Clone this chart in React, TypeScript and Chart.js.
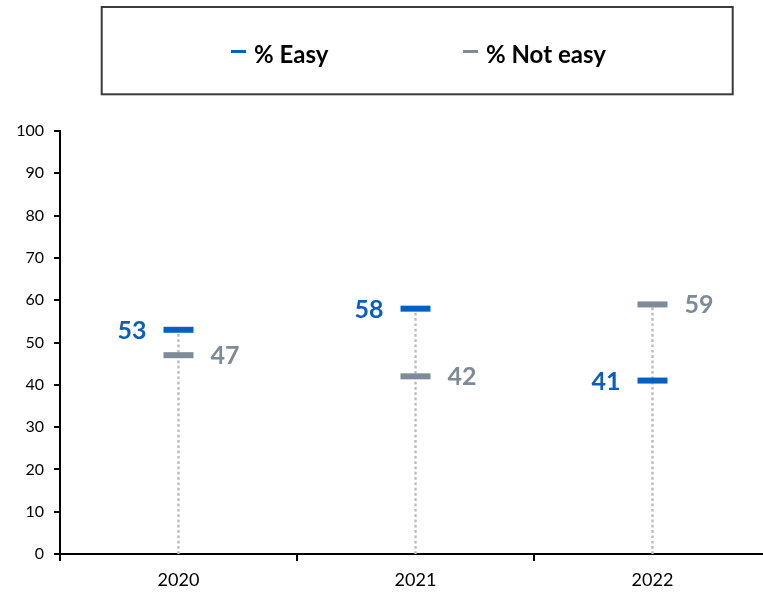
import { useEffect, useRef } from 'react';
import { Chart, registerables } from 'chart.js';

Chart.register(...registerables);

const categories = ['2020', '2021', '2022'];
const easyValues = [53, 58, 41];
const notEasyValues = [47, 42, 59];
const seriesLabels = ['% Easy', '% Not easy'];
const yMin = 0;
const yMax = 100;
const yStep = 10;

const BLUE = '#0A5EBC';
const GRAY = '#7D8A97';
const FONT = 'Lato';

const dropLines = {
  id: 'dropLines',
  beforeDatasetsDraw(chart: any) {
    const { ctx, scales } = chart;
    const y = scales.y;
    const m0 = chart.getDatasetMeta(0);
    ctx.save();
    ctx.strokeStyle = '#BDBDBD';
    ctx.lineWidth = 2.4;
    ctx.setLineDash([2.7, 2.6]);
    categories.forEach((_, i) => {
      const top = Math.max(easyValues[i], notEasyValues[i]);
      const x = m0.data[i].x;
      ctx.beginPath();
      ctx.moveTo(x, y.getPixelForValue(yMin));
      ctx.lineTo(x, y.getPixelForValue(top));
      ctx.stroke();
    });
    ctx.restore();
  },
};

const valueLabels = {
  id: 'valueLabels',
  afterDatasetsDraw(chart: any) {
    const { ctx } = chart;
    ctx.save();
    ctx.font = `bold 25px ${FONT}`;
    ctx.textBaseline = 'middle';
    chart.data.datasets.forEach((ds: any, di: number) => {
      const meta = chart.getDatasetMeta(di);
      meta.data.forEach((pt: any, i: number) => {
        ctx.fillStyle = ds.borderColor;
        if (di === 0) {
          ctx.textAlign = 'right';
          ctx.fillText(String(ds.data[i]), pt.x - 32, pt.y + 1);
        } else {
          ctx.textAlign = 'left';
          ctx.fillText(String(ds.data[i]), pt.x + 32, pt.y + 1);
        }
      });
    });
    ctx.restore();
  },
};

const legendBox = {
  id: 'legendBox',
  afterDraw(chart: any) {
    const { ctx } = chart;
    ctx.save();
    ctx.strokeStyle = '#3a3a3a';
    ctx.lineWidth = 2;
    ctx.strokeRect(101.7, 7, 631, 87.3);
    const starts = [231, 463];
    ctx.font = `bold 24px ${FONT}`;
    ctx.textBaseline = 'alphabetic';
    ctx.textAlign = 'left';
    chart.data.datasets.forEach((ds: any, i: number) => {
      const x = starts[i];
      ctx.strokeStyle = ds.borderColor;
      ctx.lineWidth = 3;
      ctx.beginPath();
      ctx.moveTo(x, 51.5);
      ctx.lineTo(x + 15, 51.5);
      ctx.stroke();
      ctx.fillStyle = '#000';
      ctx.fillText(ds.label, x + 23, 62.5);
    });
    ctx.restore();
  },
};

export default function App() {
  const ref = useRef<HTMLCanvasElement>(null);
  useEffect(() => {
    if (!ref.current) return;
    const mk = (label: string, data: number[], color: string) => ({
      label,
      data,
      showLine: false,
      pointStyle: 'line',
      pointRadius: 15,
      pointHoverRadius: 15,
      pointBorderWidth: 6,
      pointHoverBorderWidth: 6,
      borderColor: color,
      backgroundColor: color,
      pointBorderColor: color,
      pointBackgroundColor: color,
    });
    const chart = new Chart(ref.current, {
      type: 'line',
      data: {
        labels: categories,
        datasets: [mk(seriesLabels[0], easyValues, BLUE), mk(seriesLabels[1], notEasyValues, GRAY)] as any,
      },
      options: {
        animation: false,
        responsive: false,
        maintainAspectRatio: false,
        devicePixelRatio: 1,
        events: [],
        layout: { padding: { top: 131, left: 0, right: 0, bottom: 0 } },
        plugins: { legend: { display: false }, tooltip: { enabled: false } },
        scales: {
          x: {
            type: 'category',
            offset: true,
            grid: { offset: true, drawOnChartArea: false, drawTicks: true, tickLength: 7, color: '#000', lineWidth: 2 },
            border: { display: true, color: '#000', width: 2 },
            ticks: { color: '#000', font: { family: FONT, size: 18 }, padding: 8 },
            afterFit: (s: any) => { s.height = 38; s.paddingLeft = 0; s.paddingRight = 0; },
          },
          y: {
            min: yMin,
            max: yMax,
            ticks: { stepSize: yStep, color: '#000', font: { family: FONT, size: 16 }, padding: 10 },
            grid: { drawOnChartArea: false, drawTicks: true, tickLength: 6, color: '#000', lineWidth: 2 },
            border: { display: true, color: '#000', width: 2 },
            afterFit: (s: any) => { s.width = 60; },
          },
        },
      } as any,
      plugins: [dropLines, valueLabels, legendBox],
    });
    return () => chart.destroy();
  }, []);
  return (
    <div style={{ position: 'fixed', left: 0, top: 0, width: 763, height: 592, overflow: 'hidden', background: '#fff' }}>
      <canvas ref={ref} width={792} height={592} style={{ display: 'block', width: 792, height: 592 }} />
    </div>
  );
}
